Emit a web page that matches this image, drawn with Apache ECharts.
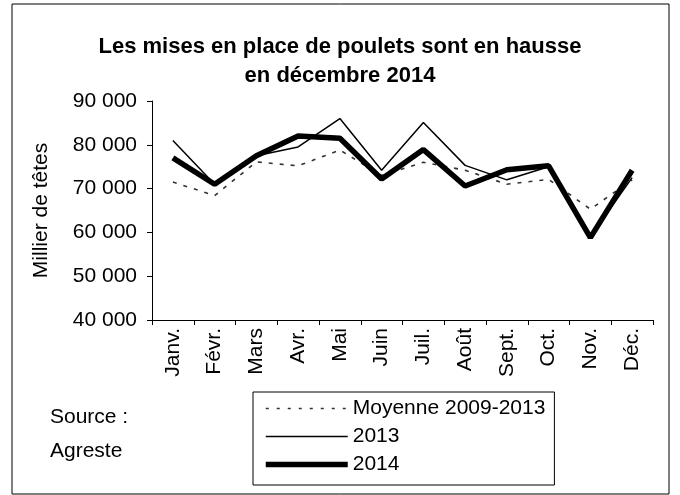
<!DOCTYPE html>
<html>
<head>
<meta charset="utf-8">
<script src="https://cdn.jsdelivr.net/npm/echarts@6/dist/echarts.min.js"></script>
<style>
html,body{margin:0;padding:0;background:#fff;}
#chart{width:680px;height:495px;}
</style>
</head>
<body>
<div id="chart"></div>
<script>
const categories = ['Janv.', 'Févr.', 'Mars', 'Avr.', 'Mai', 'Juin', 'Juil.', 'Août', 'Sept.', 'Oct.', 'Nov.', 'Déc.'];
const moyenne = [71500, 68400, 76100, 75200, 78800, 73000, 76000, 74200, 71000, 72100, 65300, 72000];
const y2013 = [81000, 71000, 77500, 79500, 86000, 74200, 85100, 75300, 72000, 75000, 59000, 72500];
const y2014 = [77000, 71000, 77500, 82000, 81500, 72200, 78900, 70600, 74300, 75200, 58800, 74200];
const seriesNames = ['Moyenne 2009-2013', '2013', '2014'];
const titleText = 'Les mises en place de poulets sont en hausse\nen décembre 2014';
const yAxisName = 'Millier de têtes';
const sourceText = 'Source :\nAgreste';

const FONT = 'Arial, "Liberation Sans", sans-serif';
const styles = [
  {color: '#333', width: 1.6, type: [4, 7]},
  {color: '#000', width: 1.5, type: 'solid'},
  {color: '#000', width: 5.5, type: 'solid'}
];
const chart = echarts.init(document.getElementById('chart'), null, {renderer: 'canvas'});
function fmt(v) { return String(v).replace(/\B(?=(\d{3})+(?!\d))/g, ' '); }

chart.setOption({
  backgroundColor: '#fff',
  animation: false,
  title: [{
    text: titleText,
    left: 'center',
    top: 27,
    textStyle: {fontFamily: FONT, fontSize: 22, fontWeight: 'bold', color: '#000', lineHeight: 29}
  }, {
    text: sourceText,
    left: 45,
    top: 395,
    textStyle: {fontFamily: FONT, fontSize: 21, fontWeight: 'normal', color: '#000', lineHeight: 34}
  }],
  graphic: [{
    type: 'rect',
    shape: {x: 12, y: 4, width: 657, height: 490},
    style: {fill: 'none', stroke: '#000', lineWidth: 1},
    silent: true
  }],
  legend: {
    orient: 'vertical',
    left: 253,
    top: 392,
    data: seriesNames.map((n, i) => ({
      name: n,
      itemStyle: {opacity: 0},
      lineStyle: {color: styles[i].color, width: styles[i].width, type: i === 0 ? [3, 8] : styles[i].type}
    })),
    itemWidth: 82,
    itemHeight: 14,
    itemGap: 7,
    padding: [6, 9, 10, 10],
    borderColor: '#000',
    borderWidth: 1,
    textStyle: {fontFamily: FONT, fontSize: 21, color: '#000', lineHeight: 21}
  },
  grid: {left: 152, right: 27, top: 101, bottom: 175, containLabel: false},
  xAxis: {
    type: 'category',
    data: categories,
    boundaryGap: true,
    axisLine: {lineStyle: {color: '#000', width: 1}},
    axisTick: {show: true, length: 5, lineStyle: {color: '#000'}},
    axisLabel: {rotate: 90, margin: 8, fontFamily: FONT, fontSize: 21, color: '#000', interval: 0},
    splitLine: {show: false}
  },
  yAxis: {
    type: 'value',
    min: 40000,
    max: 90000,
    interval: 10000,
    name: yAxisName,
    nameLocation: 'middle',
    nameGap: 100,
    nameTextStyle: {fontFamily: FONT, fontSize: 21, color: '#000'},
    axisLine: {show: true, lineStyle: {color: '#000', width: 1}},
    axisTick: {show: true, length: 5, lineStyle: {color: '#000'}},
    axisLabel: {margin: 15, fontFamily: FONT, fontSize: 21, color: '#000', formatter: fmt},
    splitLine: {show: false}
  },
  series: [{
    name: seriesNames[0],
    type: 'line',
    data: moyenne,
    symbol: 'none',
    lineStyle: styles[0],
    itemStyle: {color: styles[0].color},
    z: 2
  }, {
    name: seriesNames[1],
    type: 'line',
    data: y2013,
    symbol: 'none',
    lineStyle: styles[1],
    itemStyle: {color: styles[1].color},
    z: 3
  }, {
    name: seriesNames[2],
    type: 'line',
    data: y2014,
    symbol: 'none',
    lineStyle: styles[2],
    itemStyle: {color: styles[2].color},
    z: 4
  }]
});
</script>
</body>
</html>
